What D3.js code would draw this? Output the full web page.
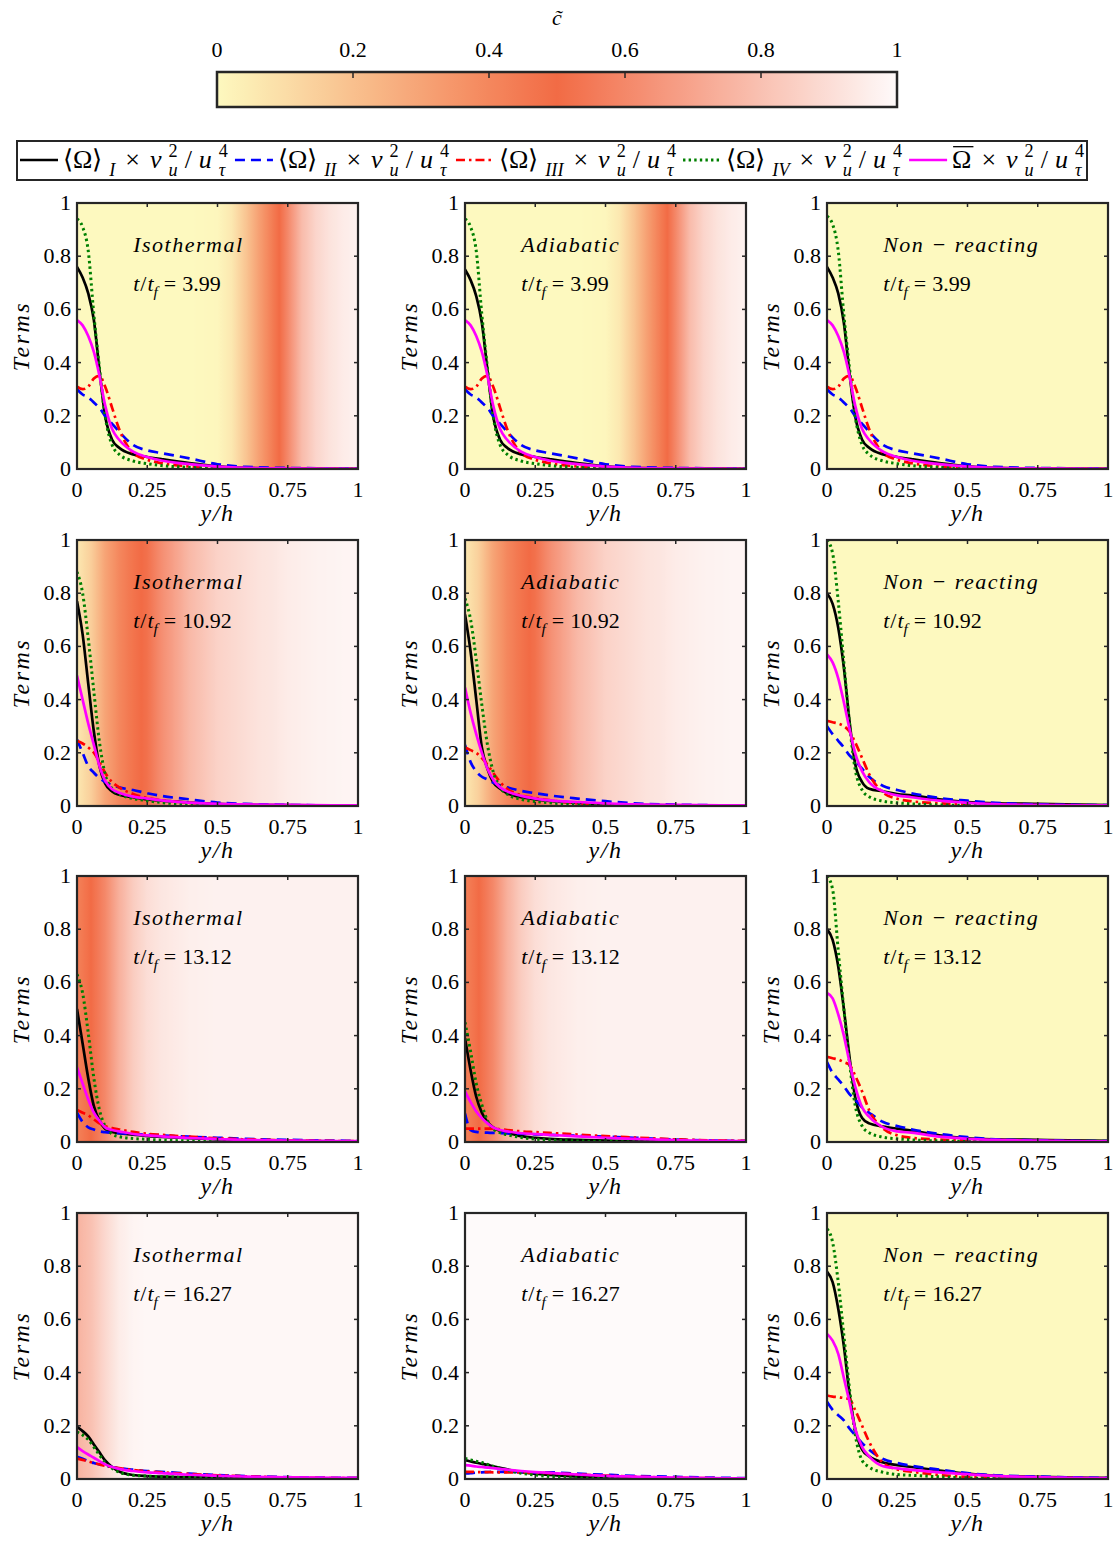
<!DOCTYPE html>
<html>
<head>
<meta charset="utf-8">
<script src="https://cdn.jsdelivr.net/npm/d3@7"></script>
<style>
  body { margin: 0; background: #fff; }
</style>
</head>
<body>
<svg id="fig" width="1113" height="1546"></svg>
<script>
// ---- DATA ---------------------------------------------------------------
// wall-normal positions (y/h) where the terms were read off
const yh = [0, 0.02, 0.04, 0.06, 0.08, 0.1, 0.125, 0.15, 0.2, 0.25, 0.3, 0.4, 0.5, 0.6, 0.75, 1];

// each panel: [I, II, III, IV, mean]
const iso399 = [
  [0.76, 0.72, 0.66, 0.56, 0.37, 0.20, 0.11, 0.08, 0.055, 0.045, 0.037, 0.022, 0.010, 0.004, 0.002, 0.001],
  [0.30, 0.28, 0.27, 0.25, 0.23, 0.20, 0.17, 0.14, 0.09, 0.07, 0.06, 0.04, 0.018, 0.008, 0.004, 0.002],
  [0.31, 0.30, 0.31, 0.34, 0.35, 0.31, 0.23, 0.15, 0.06, 0.035, 0.022, 0.010, 0.004, 0.002, 0.001, 0],
  [0.94, 0.91, 0.82, 0.58, 0.38, 0.20, 0.09, 0.055, 0.03, 0.02, 0.013, 0.006, 0.003, 0.001, 0.001, 0],
  [0.56, 0.54, 0.50, 0.44, 0.35, 0.24, 0.15, 0.11, 0.065, 0.045, 0.032, 0.018, 0.009, 0.004, 0.002, 0.001],
];
const adi399 = [
  [0.75, 0.71, 0.65, 0.55, 0.37, 0.20, 0.11, 0.08, 0.055, 0.045, 0.037, 0.022, 0.010, 0.004, 0.002, 0.001],
  [0.30, 0.28, 0.27, 0.25, 0.23, 0.20, 0.17, 0.14, 0.09, 0.07, 0.06, 0.04, 0.018, 0.008, 0.004, 0.002],
  [0.31, 0.30, 0.31, 0.34, 0.35, 0.31, 0.23, 0.15, 0.06, 0.035, 0.022, 0.010, 0.004, 0.002, 0.001, 0],
  [0.94, 0.91, 0.82, 0.58, 0.38, 0.20, 0.09, 0.055, 0.03, 0.02, 0.013, 0.006, 0.003, 0.001, 0.001, 0],
  [0.56, 0.54, 0.50, 0.44, 0.35, 0.24, 0.15, 0.11, 0.065, 0.045, 0.032, 0.018, 0.009, 0.004, 0.002, 0.001],
];
const non399 = [
  [0.76, 0.72, 0.66, 0.55, 0.36, 0.20, 0.11, 0.08, 0.055, 0.045, 0.037, 0.022, 0.010, 0.004, 0.002, 0.001],
  [0.30, 0.28, 0.27, 0.25, 0.23, 0.20, 0.17, 0.14, 0.09, 0.07, 0.06, 0.04, 0.018, 0.008, 0.004, 0.002],
  [0.31, 0.30, 0.31, 0.34, 0.35, 0.31, 0.23, 0.15, 0.06, 0.035, 0.022, 0.010, 0.004, 0.002, 0.001, 0],
  [0.95, 0.92, 0.82, 0.58, 0.38, 0.20, 0.09, 0.055, 0.03, 0.02, 0.013, 0.006, 0.003, 0.001, 0.001, 0],
  [0.56, 0.54, 0.50, 0.44, 0.35, 0.24, 0.15, 0.11, 0.065, 0.045, 0.032, 0.018, 0.009, 0.004, 0.002, 0.001],
];
const iso1092 = [
  [0.77, 0.645, 0.46, 0.28, 0.15, 0.085, 0.055, 0.042, 0.033, 0.025, 0.02, 0.013, 0.008, 0.005, 0.003, 0.001],
  [0.25, 0.20, 0.15, 0.125, 0.105, 0.09, 0.078, 0.07, 0.06, 0.048, 0.038, 0.025, 0.013, 0.008, 0.004, 0.002],
  [0.245, 0.235, 0.22, 0.20, 0.165, 0.125, 0.09, 0.07, 0.045, 0.03, 0.022, 0.012, 0.006, 0.003, 0.002, 0.001],
  [0.88, 0.80, 0.63, 0.43, 0.24, 0.12, 0.065, 0.045, 0.028, 0.02, 0.013, 0.007, 0.003, 0.002, 0.001, 0],
  [0.49, 0.40, 0.31, 0.23, 0.15, 0.095, 0.063, 0.05, 0.035, 0.028, 0.021, 0.013, 0.008, 0.006, 0.004, 0.002],
];
const adi1092 = [
  [0.72, 0.58, 0.40, 0.22, 0.14, 0.09, 0.065, 0.048, 0.033, 0.025, 0.019, 0.012, 0.006, 0.004, 0.002, 0.001],
  [0.23, 0.165, 0.13, 0.11, 0.10, 0.088, 0.078, 0.07, 0.057, 0.048, 0.04, 0.028, 0.018, 0.01, 0.005, 0.002],
  [0.22, 0.21, 0.20, 0.18, 0.155, 0.125, 0.09, 0.065, 0.04, 0.03, 0.022, 0.01, 0.005, 0.003, 0.002, 0.001],
  [0.78, 0.70, 0.55, 0.38, 0.23, 0.13, 0.07, 0.045, 0.025, 0.017, 0.012, 0.006, 0.003, 0.002, 0.001, 0],
  [0.445, 0.35, 0.27, 0.20, 0.14, 0.10, 0.07, 0.055, 0.038, 0.028, 0.021, 0.015, 0.01, 0.006, 0.004, 0.002],
];
const non1092 = [
  [0.80, 0.76, 0.67, 0.52, 0.32, 0.16, 0.09, 0.065, 0.055, 0.045, 0.04, 0.025, 0.015, 0.01, 0.008, 0.003],
  [0.30, 0.27, 0.245, 0.22, 0.19, 0.17, 0.14, 0.11, 0.075, 0.06, 0.048, 0.03, 0.02, 0.012, 0.006, 0.003],
  [0.32, 0.315, 0.31, 0.30, 0.28, 0.24, 0.18, 0.12, 0.05, 0.027, 0.018, 0.01, 0.005, 0.003, 0.002, 0.001],
  [1.0, 0.95, 0.77, 0.54, 0.31, 0.14, 0.06, 0.035, 0.018, 0.012, 0.008, 0.004, 0.002, 0.001, 0.001, 0],
  [0.57, 0.54, 0.48, 0.39, 0.29, 0.20, 0.13, 0.09, 0.055, 0.04, 0.033, 0.02, 0.012, 0.007, 0.004, 0.002],
];
const iso1312 = [
  [0.50, 0.37, 0.24, 0.135, 0.08, 0.05, 0.038, 0.033, 0.028, 0.022, 0.019, 0.014, 0.01, 0.007, 0.004, 0.002],
  [0.11, 0.075, 0.055, 0.047, 0.04, 0.037, 0.035, 0.033, 0.03, 0.028, 0.025, 0.02, 0.016, 0.012, 0.008, 0.004],
  [0.12, 0.11, 0.10, 0.085, 0.07, 0.06, 0.052, 0.047, 0.038, 0.031, 0.027, 0.02, 0.014, 0.01, 0.006, 0.003],
  [0.63, 0.56, 0.41, 0.24, 0.12, 0.06, 0.03, 0.02, 0.013, 0.01, 0.007, 0.004, 0.002, 0.001, 0.001, 0],
  [0.28, 0.22, 0.16, 0.11, 0.08, 0.055, 0.045, 0.04, 0.03, 0.025, 0.021, 0.015, 0.011, 0.008, 0.005, 0.003],
];
const adi1312 = [
  [0.39, 0.27, 0.17, 0.11, 0.075, 0.055, 0.042, 0.035, 0.022, 0.016, 0.012, 0.008, 0.005, 0.003, 0.002, 0.001],
  [0.107, 0.045, 0.038, 0.036, 0.035, 0.034, 0.033, 0.032, 0.031, 0.029, 0.027, 0.024, 0.02, 0.016, 0.009, 0.004],
  [0.05, 0.05, 0.05, 0.05, 0.05, 0.05, 0.048, 0.045, 0.04, 0.037, 0.034, 0.028, 0.022, 0.017, 0.01, 0.004],
  [0.45, 0.34, 0.22, 0.14, 0.08, 0.05, 0.035, 0.027, 0.017, 0.011, 0.008, 0.004, 0.002, 0.001, 0.001, 0],
  [0.19, 0.15, 0.115, 0.09, 0.07, 0.055, 0.045, 0.04, 0.033, 0.03, 0.027, 0.021, 0.016, 0.012, 0.007, 0.003],
];
const non1312 = [
  [0.80, 0.76, 0.66, 0.50, 0.32, 0.17, 0.09, 0.07, 0.058, 0.05, 0.043, 0.025, 0.014, 0.01, 0.008, 0.004],
  [0.30, 0.26, 0.235, 0.21, 0.18, 0.16, 0.13, 0.11, 0.075, 0.06, 0.048, 0.03, 0.018, 0.01, 0.006, 0.003],
  [0.32, 0.315, 0.31, 0.30, 0.29, 0.25, 0.19, 0.12, 0.05, 0.025, 0.016, 0.009, 0.005, 0.003, 0.002, 0.001],
  [1.0, 0.95, 0.72, 0.50, 0.30, 0.14, 0.06, 0.035, 0.018, 0.012, 0.008, 0.004, 0.002, 0.001, 0.001, 0],
  [0.56, 0.54, 0.48, 0.40, 0.30, 0.21, 0.13, 0.095, 0.055, 0.04, 0.035, 0.02, 0.012, 0.008, 0.005, 0.002],
];
const iso1627 = [
  [0.196, 0.18, 0.16, 0.13, 0.10, 0.07, 0.045, 0.028, 0.015, 0.011, 0.009, 0.007, 0.005, 0.004, 0.003, 0.002],
  [0.084, 0.076, 0.068, 0.06, 0.055, 0.05, 0.045, 0.041, 0.035, 0.03, 0.027, 0.02, 0.015, 0.011, 0.007, 0.004],
  [0.077, 0.072, 0.066, 0.06, 0.055, 0.05, 0.045, 0.041, 0.034, 0.029, 0.025, 0.019, 0.014, 0.01, 0.006, 0.003],
  [0.177, 0.165, 0.148, 0.12, 0.09, 0.062, 0.04, 0.026, 0.014, 0.011, 0.009, 0.006, 0.004, 0.003, 0.002, 0.001],
  [0.12, 0.105, 0.092, 0.08, 0.067, 0.055, 0.045, 0.038, 0.03, 0.025, 0.022, 0.016, 0.012, 0.009, 0.006, 0.004],
];
const adi1627 = [
  [0.071, 0.066, 0.061, 0.057, 0.053, 0.048, 0.042, 0.036, 0.026, 0.02, 0.015, 0.009, 0.005, 0.003, 0.002, 0.001],
  [0.021, 0.022, 0.024, 0.025, 0.026, 0.027, 0.027, 0.027, 0.026, 0.025, 0.025, 0.02, 0.016, 0.012, 0.008, 0.003],
  [0.027, 0.027, 0.026, 0.026, 0.026, 0.025, 0.025, 0.025, 0.025, 0.024, 0.022, 0.017, 0.013, 0.009, 0.005, 0.002],
  [0.077, 0.072, 0.067, 0.062, 0.055, 0.048, 0.04, 0.033, 0.022, 0.015, 0.009, 0.004, 0.002, 0.001, 0.001, 0],
  [0.052, 0.05, 0.047, 0.045, 0.043, 0.041, 0.038, 0.035, 0.03, 0.026, 0.023, 0.017, 0.012, 0.009, 0.005, 0.002],
];
const non1627 = [
  [0.78, 0.74, 0.64, 0.50, 0.32, 0.19, 0.11, 0.085, 0.062, 0.052, 0.045, 0.032, 0.02, 0.012, 0.008, 0.004],
  [0.29, 0.26, 0.24, 0.22, 0.19, 0.165, 0.135, 0.11, 0.075, 0.06, 0.05, 0.035, 0.022, 0.014, 0.009, 0.004],
  [0.314, 0.31, 0.308, 0.304, 0.30, 0.26, 0.20, 0.14, 0.06, 0.036, 0.028, 0.015, 0.008, 0.004, 0.002, 0.001],
  [0.94, 0.89, 0.74, 0.54, 0.34, 0.17, 0.07, 0.045, 0.025, 0.017, 0.014, 0.008, 0.004, 0.002, 0.001, 0],
  [0.545, 0.52, 0.47, 0.38, 0.29, 0.19, 0.12, 0.085, 0.048, 0.04, 0.034, 0.025, 0.018, 0.012, 0.007, 0.003],
];

// mean progress variable c~ across the channel (background shading)
const cGrid = [0, 0.05, 0.1, 0.15, 0.2, 0.25, 0.3, 0.4, 0.5, 0.55, 0.6, 0.65, 0.7, 0.72, 0.75, 0.8, 0.85, 0.9, 0.95, 1];
const cT399 = [0, 0, 0, 0, 0, 0, 0, 0, 0.01, 0.06, 0.18, 0.32, 0.45, 0.5, 0.6, 0.78, 0.87, 0.92, 0.95, 0.97];
const cT1092 = [0.06, 0.15, 0.3, 0.4, 0.47, 0.52, 0.62, 0.77, 0.86, 0.88, 0.9, 0.92, 0.93, 0.94, 0.95, 0.96, 0.97, 0.975, 0.98, 0.98];
const cT1312 = [0.42, 0.5, 0.6, 0.74, 0.84, 0.9, 0.93, 0.96, 0.97, 0.97, 0.97, 0.97, 0.97, 0.97, 0.97, 0.97, 0.97, 0.97, 0.97, 0.97];
const cIso1627 = [0.75, 0.8, 0.88, 0.95, 0.98, 0.99, 0.99, 0.99, 0.99, 0.99, 0.99, 0.99, 0.99, 0.99, 0.99, 0.99, 0.99, 0.99, 0.99, 0.99];
const cAdi1627 = [1, 1, 1, 1, 1, 1, 1, 1, 1, 1, 1, 1, 1, 1, 1, 1, 1, 1, 1, 1];
const cNon = [0, 0, 0, 0, 0, 0, 0, 0, 0, 0, 0, 0, 0, 0, 0, 0, 0, 0, 0, 0];

const cases = ["Isothermal", "Adiabatic", "Non − reacting"];
const times = ["3.99", "10.92", "13.12", "16.27"];
const panelTerms = [
  [iso399, adi399, non399],
  [iso1092, adi1092, non1092],
  [iso1312, adi1312, non1312],
  [iso1627, adi1627, non1627],
];
const panelC = [
  [cT399, cT399, cNon],
  [cT1092, cT1092, cNon],
  [cT1312, cT1312, cNon],
  [cIso1627, cAdi1627, cNon],
];
const xTicks = [0, 0.25, 0.5, 0.75, 1];
const yTicks = [0, 0.2, 0.4, 0.6, 0.8, 1];
const cbTicks = [0, 0.2, 0.4, 0.6, 0.8, 1];

// ---- STYLE / LAYOUT -----------------------------------------------------
const seriesStyle = [
  { color: "#000000", dash: null, width: 2.7 },
  { color: "#0000ff", dash: "10,6", width: 2.7 },
  { color: "#ff0000", dash: "9,4,2.5,4", width: 2.7 },
  { color: "#008000", dash: "2.4,3.2", width: 3 },
  { color: "#ff00ff", dash: null, width: 2.7 },
];
const colLeft = [77, 465, 827];
const rowTop = [203, 540, 876, 1213];
const pw = 281, ph = 266;
const fs = 22;
const axisColor = "#262626";
const FONT = "'Liberation Serif'";

const cColor = d3.scaleLinear()
  .domain([0, 0.5, 1])
  .range(["#fdf9bf", "#f26b45", "#fefafa"])
  .interpolate(d3.interpolateRgb);

const svg = d3.select("#fig");
const defs = svg.append("defs");

function txt(g) {
  return g.append("text").attr("font-family", FONT);
}

// draws a run of math-like text pieces, measuring as it goes
// piece: {t, i: italic, s: 1 sup / -1 sub, stack: same x as previous piece, bar: overline}
// gap: extra space added after every advancing piece
function rich(g, x, y, parts, size, gap) {
  gap = gap || 0;
  let cx = x, lastX = x, lastW = 0;
  parts.forEach((p) => {
    const k = p.s ? 0.7 : 1;
    const px = p.stack ? lastX : cx;
    const dy = p.s === 1 ? -0.42 * size : p.s === -1 ? 0.3 * size : 0;
    const t = txt(g)
      .attr("x", px)
      .attr("y", y + dy)
      .attr("font-size", size * k)
      .attr("font-style", p.i ? "italic" : "normal")
      .style("white-space", "pre")
      .text(p.t);
    const w = t.node().getComputedTextLength() + (p.pad || 0);
    if (p.bar) {
      g.append("line")
        .attr("x1", px + 1).attr("x2", px + w - 1)
        .attr("y1", y - size * 0.82).attr("y2", y - size * 0.82)
        .attr("stroke", "#000").attr("stroke-width", 1.3);
    }
    if (p.stack) {
      cx = lastX + Math.max(lastW, w) + gap;
    } else {
      lastX = px;
      lastW = w;
      cx = px + w + gap;
    }
  });
  return cx - gap;
}

// ---- COLORBAR -----------------------------------------------------------
const cb = { x: 217, y: 72, w: 680, h: 35 };
const cbScale = d3.scaleLinear().domain([0, 1]).range([cb.x, cb.x + cb.w]);
const cbGrad = defs.append("linearGradient").attr("id", "cbgrad");
d3.range(0, 1.0001, 0.02).forEach((v) => {
  cbGrad.append("stop").attr("offset", v).attr("stop-color", cColor(v));
});
svg.append("rect")
  .attr("x", cb.x).attr("y", cb.y).attr("width", cb.w).attr("height", cb.h)
  .attr("fill", "url(#cbgrad)")
  .attr("stroke", axisColor).attr("stroke-width", 2.5);
svg.selectAll(".cbtick")
  .data(cbTicks.slice(1, -1))
  .enter().append("line")
  .attr("x1", (d) => cbScale(d)).attr("x2", (d) => cbScale(d))
  .attr("y1", cb.y).attr("y2", cb.y + 6)
  .attr("stroke", axisColor).attr("stroke-width", 1.5);
cbTicks.forEach((d) => {
  txt(svg)
    .attr("x", cbScale(d))
    .attr("y", 57)
    .attr("text-anchor", "middle")
    .attr("font-size", fs)
    .text(d3.format("~g")(d));
});
txt(svg)
  .attr("x", 557).attr("y", 25)
  .attr("text-anchor", "middle")
  .attr("font-size", fs)
  .attr("font-style", "italic")
  .text("c\u0303");

// ---- LEGEND -------------------------------------------------------------
svg.append("rect")
  .attr("x", 17).attr("y", 141).attr("width", 1070).attr("height", 39)
  .attr("fill", "#fff").attr("stroke", axisColor).attr("stroke-width", 2);

const scaleTail = [
  { t: "×", pad: 3 },
  { t: "ν", i: 1 }, { t: "u", i: 1, s: -1 }, { t: "2", s: 1, stack: 1 },
  { t: "/" },
  { t: "u", i: 1 }, { t: "τ", i: 1, s: -1 }, { t: "4", s: 1, stack: 1 },
];
const legendLabels = [
  [{ t: "⟨Ω⟩" }, { t: "I", i: 1, s: -1, pad: 3 }].concat(scaleTail),
  [{ t: "⟨Ω⟩" }, { t: "II", i: 1, s: -1, pad: 3 }].concat(scaleTail),
  [{ t: "⟨Ω⟩" }, { t: "III", i: 1, s: -1, pad: 3 }].concat(scaleTail),
  [{ t: "⟨Ω⟩" }, { t: "IV", i: 1, s: -1, pad: 3 }].concat(scaleTail),
  [{ t: "Ω", bar: 1, pad: 3 }].concat(scaleTail),
];
const legendY = 160;
const legendFs = 26;
const sampleLen = 38;
const legend = svg.append("g");

// measure each label, then flow the entries so they fill the box evenly
const probe = legend.append("g");
const widths = legendLabels.map((lab) => rich(probe, 0, legendY, lab, legendFs));
const steps = legendLabels.map((lab) => lab.filter((p) => !p.stack).length - 1);
probe.remove();
const fixed = d3.sum(widths) + legendLabels.length * (sampleLen + 5) + (legendLabels.length - 1) * 7;
const gap = Math.max(0, (1084 - 20 - fixed) / d3.sum(steps));
let lx = 20;
legendLabels.forEach((lab, i) => {
  const st = seriesStyle[i];
  legend.append("line")
    .attr("x1", lx).attr("x2", lx + sampleLen)
    .attr("y1", legendY).attr("y2", legendY)
    .attr("stroke", st.color)
    .attr("stroke-width", st.width)
    .attr("stroke-dasharray", st.dash);
  lx = rich(legend, lx + sampleLen + 5, legendY + 8, lab, legendFs, gap) + 7;
});

// ---- PANELS -------------------------------------------------------------
panelTerms.forEach((rowTerms, r) => {
  rowTerms.forEach((terms, c) => {
    const left = colLeft[c], top = rowTop[r];
    const id = "p" + r + "" + c;
    const x = d3.scaleLinear().domain([0, 1]).range([left, left + pw]);
    const y = d3.scaleLinear().domain([0, 1]).range([top + ph, top]);
    const g = svg.append("g");

    // background c~ shading
    const cProfile = d3.scaleLinear().domain(cGrid).range(panelC[r][c]).clamp(true);
    const grad = defs.append("linearGradient").attr("id", "bg" + id);
    d3.range(0, 1.0001, 0.005).forEach((v) => {
      grad.append("stop").attr("offset", v).attr("stop-color", cColor(cProfile(v)));
    });
    defs.append("clipPath").attr("id", "clip" + id)
      .append("rect")
      .attr("x", left).attr("y", top).attr("width", pw).attr("height", ph);
    g.append("rect")
      .attr("x", left).attr("y", top).attr("width", pw).attr("height", ph)
      .attr("fill", "url(#bg" + id + ")");

    // curves
    const line = d3.line()
      .x((d, i) => x(yh[i]))
      .y((d) => y(d))
      .curve(d3.curveMonotoneX);
    const curves = g.append("g").attr("clip-path", "url(#clip" + id + ")");
    terms.forEach((vals, k) => {
      const st = seriesStyle[k];
      curves.append("path")
        .attr("d", line(vals))
        .attr("fill", "none")
        .attr("stroke", st.color)
        .attr("stroke-width", st.width)
        .attr("stroke-dasharray", st.dash);
    });

    // axes with inward ticks on all four sides
    const ax = g.append("g").attr("stroke", axisColor).attr("stroke-width", 1.5);
    xTicks.forEach((t) => {
      ax.append("line").attr("x1", x(t)).attr("x2", x(t)).attr("y1", top + ph).attr("y2", top + ph - 4);
      ax.append("line").attr("x1", x(t)).attr("x2", x(t)).attr("y1", top).attr("y2", top + 4);
    });
    yTicks.forEach((t) => {
      ax.append("line").attr("x1", left).attr("x2", left + 4).attr("y1", y(t)).attr("y2", y(t));
      ax.append("line").attr("x1", left + pw).attr("x2", left + pw - 4).attr("y1", y(t)).attr("y2", y(t));
    });
    g.append("rect")
      .attr("x", left).attr("y", top).attr("width", pw).attr("height", ph)
      .attr("fill", "none").attr("stroke", axisColor).attr("stroke-width", 2.2);

    xTicks.forEach((d) => {
      txt(g).attr("x", x(d)).attr("y", top + ph + 28)
        .attr("text-anchor", "middle").attr("font-size", fs)
        .text(d3.format("~g")(d));
    });
    yTicks.forEach((d) => {
      txt(g).attr("x", left - 6).attr("y", y(d) + 7)
        .attr("text-anchor", "end").attr("font-size", fs)
        .text(d3.format("~g")(d));
    });

    // axis titles
    txt(g)
      .attr("transform", "translate(" + (left - 48) + "," + (top + ph / 2) + ") rotate(-90)")
      .attr("text-anchor", "middle").attr("font-size", fs + 2).attr("font-style", "italic")
      .attr("letter-spacing", 2.5)
      .text("Terms");
    txt(g)
      .attr("x", left + pw / 2).attr("y", top + ph + 52)
      .attr("text-anchor", "middle").attr("font-size", fs + 2).attr("font-style", "italic")
      .attr("letter-spacing", 1.5)
      .text("y/h");

    // case annotation
    txt(g)
      .attr("x", x(0.2)).attr("y", y(0.815))
      .attr("font-size", fs).attr("font-style", "italic")
      .attr("letter-spacing", 1.5)
      .style("white-space", "pre")
      .text(cases[c]);
    rich(g, x(0.2), y(0.67), [
      { t: "t", i: 1, pad: 1 }, { t: "/", pad: 1 }, { t: "t", i: 1 }, { t: "f", i: 1, s: -1, pad: 6 },
      { t: "=", pad: 6 }, { t: times[r] },
    ], fs);
  });
});
</script>
</body>
</html>
